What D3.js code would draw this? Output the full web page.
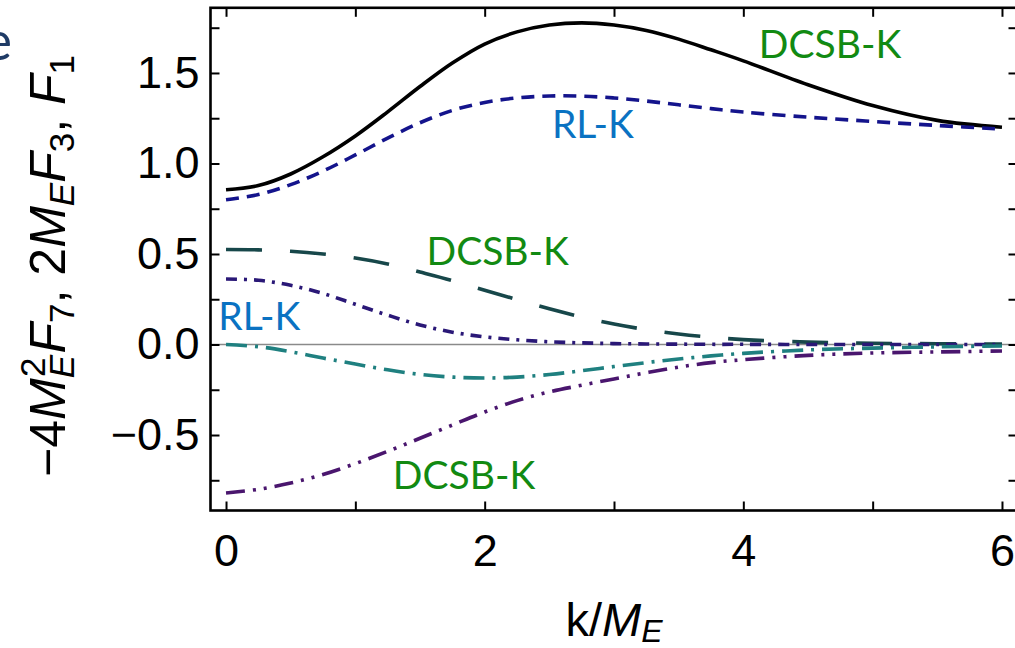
<!DOCTYPE html>
<html>
<head>
<meta charset="utf-8">
<script src="https://cdn.jsdelivr.net/npm/d3@7"></script>
<style>
  html, body { margin: 0; padding: 0; background: #fff; }
  svg { display: block; }
</style>
</head>
<body>
<svg id="chart" width="1015" height="648"></svg>
<script>
// ---- data ----
const kValues = [0, 0.25, 0.5, 0.75, 1, 1.25, 1.5, 1.75, 2, 2.25, 2.5, 2.75, 3, 3.25, 3.5, 3.75, 4, 4.5, 5, 5.5, 6];
const f1DCSB = [0.855, 0.878, 0.942, 1.037, 1.152, 1.285, 1.425, 1.555, 1.66, 1.727, 1.765, 1.777, 1.765, 1.735, 1.687, 1.628, 1.567, 1.435, 1.32, 1.238, 1.20];
const f1RL   = [0.80, 0.828, 0.883, 0.958, 1.047, 1.14, 1.225, 1.293, 1.337, 1.362, 1.373, 1.372, 1.362, 1.345, 1.324, 1.303, 1.284, 1.256, 1.232, 1.21, 1.19];
const f3DCSB = [0.525, 0.523, 0.515, 0.50, 0.478, 0.445, 0.40, 0.353, 0.30, 0.248, 0.197, 0.152, 0.113, 0.082, 0.058, 0.04, 0.027, 0.013, 0.007, 0.004, 0.003];
const f3RL   = [0.362, 0.355, 0.327, 0.282, 0.222, 0.162, 0.108, 0.068, 0.042, 0.026, 0.015, 0.009, 0.005, 0.003, 0.002, 0.001, 0.001, 0.0, 0.0, 0.0, 0.0];
const f7RL   = [0.0, -0.012, -0.04, -0.075, -0.108, -0.14, -0.165, -0.18, -0.185, -0.18, -0.166, -0.145, -0.122, -0.10, -0.08, -0.063, -0.049, -0.03, -0.02, -0.013, -0.008];
const f7DCSB = [-0.82, -0.80, -0.765, -0.718, -0.658, -0.59, -0.518, -0.445, -0.373, -0.31, -0.262, -0.225, -0.19, -0.156, -0.125, -0.10, -0.084, -0.06, -0.047, -0.041, -0.036];

const xTicks = [0, 1, 2, 3, 4, 5, 6];
const xTickLabels = ["0", "", "2", "", "4", "", "6"];
const yTicks = [-0.75, -0.5, -0.25, 0, 0.25, 0.5, 0.75, 1, 1.25, 1.5, 1.75];
const yTickLabels = ["", "\u22120.5", "", "0.0", "", "0.5", "", "1.0", "", "1.5", ""];

const curveLabels = [
  { text: "DCSB-K", kind: "dcsb", k: 4.12, v: 1.585 },
  { text: "RL-K",   kind: "rl",   k: 2.52, v: 1.142 },
  { text: "DCSB-K", kind: "dcsb", k: 1.55, v: 0.44 },
  { text: "RL-K",   kind: "rl",   k: -0.06, v: 0.08 },
  { text: "DCSB-K", kind: "dcsb", k: 1.29, v: -0.80 }
];

// ---- layout ----
const svg = d3.select("#chart");
const x = d3.scaleLinear().domain([-0.12, 6.12]).range([210.5, 1017.5]);
const y = d3.scaleLinear().domain([-0.917, 1.86]).range([510.5, 7.8]);

const series = [
  { vals: f1DCSB, color: "#000000", dash: null },
  { vals: f1RL,   color: "#14148c", dash: "13,8" },
  { vals: f3DCSB, color: "#17474a", dash: "36,28" },
  { vals: f3RL,   color: "#2a1877", dash: "11,7,3,7" },
  { vals: f7RL,   color: "#1f8080", dash: "21,8,3,8" },
  { vals: f7DCSB, color: "#4a166e", dash: "19,8,3,8,3,8" }
];

const tickFont = "'Liberation Sans', Arial, sans-serif";

// zero line
svg.append("line")
  .attr("x1", x(-0.12)).attr("x2", x(6.12))
  .attr("y1", y(0)).attr("y2", y(0))
  .attr("stroke", "#8a8a8a").attr("stroke-width", 1.3);

// curves
const line = d3.line()
  .x((d, i) => x(kValues[i]))
  .y(d => y(d))
  .curve(d3.curveCatmullRom.alpha(0.5));

svg.append("g").selectAll("path")
  .data(series)
  .join("path")
  .attr("d", s => line(s.vals))
  .attr("fill", "none")
  .attr("stroke", s => s.color)
  .attr("stroke-width", 3.6)
  .attr("stroke-dasharray", s => s.dash);

// axes (frame ticks on four sides)
function styleAxis(g) {
  g.select(".domain").remove();
  g.selectAll(".tick line").attr("stroke", "#000").attr("stroke-width", 2);
  g.selectAll(".tick text").attr("font-family", tickFont).attr("font-size", 45).attr("fill", "#000");
}
svg.append("g").attr("transform", `translate(0,${y(-0.917)})`)
  .call(d3.axisBottom(x).tickValues(xTicks).tickSize(-9).tickPadding(24)
    .tickFormat((d, i) => xTickLabels[i]))
  .call(styleAxis);
svg.append("g").attr("transform", `translate(0,${y(1.86)})`)
  .call(d3.axisTop(x).tickValues(xTicks).tickSize(-9).tickFormat(""))
  .call(styleAxis);
svg.append("g").attr("transform", `translate(${x(-0.12)},0)`)
  .call(d3.axisLeft(y).tickValues(yTicks).tickSize(-9).tickPadding(11)
    .tickFormat((d, i) => yTickLabels[i]))
  .call(styleAxis);
svg.append("g").attr("transform", `translate(${x(6.12)},0)`)
  .call(d3.axisRight(y).tickValues(yTicks).tickSize(-9).tickFormat(""))
  .call(styleAxis);

// frame
svg.append("rect")
  .attr("x", x(-0.12)).attr("y", y(1.86))
  .attr("width", x(6.12) - x(-0.12)).attr("height", y(-0.917) - y(1.86))
  .attr("fill", "none").attr("stroke", "#000").attr("stroke-width", 2.6);

// curve labels
svg.append("g").selectAll("text")
  .data(curveLabels)
  .join("text")
  .attr("x", d => x(d.k))
  .attr("y", d => y(d.v))
  .attr("font-family", "Lato, 'Open Sans', sans-serif")
  .attr("font-size", 39)
  .attr("fill", d => d.kind === "dcsb" ? "#128a12" : "#0a72c2")
  .text(d => d.text);

// x axis title
const xt = svg.append("text")
  .attr("x", (x(-0.12) + x(6.12)) / 2).attr("y", 636)
  .attr("text-anchor", "middle")
  .attr("font-family", tickFont).attr("font-size", 47);
xt.append("tspan").text("k/");
xt.append("tspan").attr("font-style", "italic").text("M");
xt.append("tspan").attr("font-style", "italic").attr("font-size", 32).attr("dy", 6).text("E");

// y axis title (rotated)
const yt = svg.append("text")
  .attr("transform", "rotate(-90)")
  .attr("x", -266).attr("y", 65)
  .attr("text-anchor", "middle")
  .attr("font-family", tickFont).attr("font-size", 50);
yt.append("tspan").text("\u22124");
yt.append("tspan").attr("font-style", "italic").text("M");
yt.append("tspan").attr("font-style", "italic").attr("font-size", 35).attr("dy", 9).text("E");
yt.append("tspan").attr("font-size", 35).attr("dx", -22).attr("dy", -29).text("2");
yt.append("tspan").attr("font-style", "italic").attr("dy", 20).attr("dx", 4).text("F");
yt.append("tspan").attr("font-size", 35).attr("dy", 9).text("7");
yt.append("tspan").attr("dy", -9).text(", 2");
yt.append("tspan").attr("font-style", "italic").text("M");
yt.append("tspan").attr("font-style", "italic").attr("font-size", 35).attr("dy", 9).text("E");
yt.append("tspan").attr("font-style", "italic").attr("dy", -9).text("F");
yt.append("tspan").attr("font-size", 35).attr("dy", 9).text("3");
yt.append("tspan").attr("dy", -9).text(", ");
yt.append("tspan").attr("font-style", "italic").text("F");
yt.append("tspan").attr("font-size", 35).attr("dy", 9).text("1");

// cropped fragment of surrounding slide text at top-left (cut off in the reference too)
svg.append("text")
  .attr("x", 12).attr("y", 60)
  .attr("text-anchor", "end")
  .attr("font-family", "Lato, 'Open Sans', sans-serif")
  .attr("font-size", 54)
  .attr("fill", "#1f3b66")
  .text("e");
</script>
</body>
</html>
